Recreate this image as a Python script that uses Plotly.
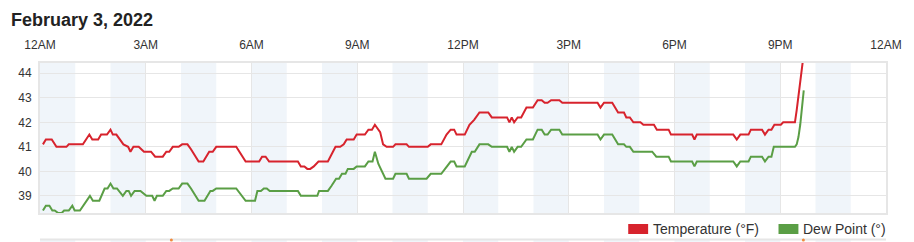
import plotly.graph_objects as go

DATE = "2022-02-03"
TITLE = "February 3, 2022"

temp_times = ["00:05","00:10","00:20","00:28","00:45","00:49","01:13","01:24","01:29","01:39",
              "01:44","01:54","02:00","02:04","02:10","02:22","02:30","02:34","02:39","02:48",
              "02:57","03:09","03:16","03:29","03:35","03:40","03:46","03:56","04:02","04:11",
              "04:17","04:30","04:38","04:48","04:54","05:00","05:34","05:50","06:13","06:18",
              "06:24","06:30","07:19","07:24","07:30","07:35","07:40","07:46","07:54","08:10",
              "08:23","08:31","08:37","08:42","08:54","08:59","09:13","09:19","09:25","09:30",
              "09:39","09:44","09:50","10:01","10:05","10:24","10:28","11:00","11:05","11:23",
              "11:32","11:39","11:45","11:49","12:03","12:11","12:19","12:28","12:43","12:49",
              "13:15","13:19","13:23","13:27","13:33","13:39","13:48","13:59","14:07","14:14",
              "14:19","14:24","14:30","14:44","14:49","15:49","15:54","16:00","16:14","16:24",
              "16:34","16:38","16:44","16:50","17:02","17:07","17:25","17:30","17:50","17:54",
              "18:30","18:34","18:38","19:40","19:46","19:52","20:06","20:10","20:29","20:34",
              "20:40","20:45","20:50","21:01","21:05","21:25","21:28","21:31","21:34","21:37",
              "21:40"]
temp_values = [41.1,41.3,41.3,41.0,41.0,41.1,41.1,41.5,41.3,41.3,
               41.5,41.5,41.7,41.5,41.5,41.1,41.0,40.8,41.0,41.0,
               40.8,40.8,40.6,40.6,40.8,40.8,41.0,41.0,41.1,41.1,
               40.9,40.4,40.4,40.8,40.8,41.0,41.0,40.4,40.4,40.6,
               40.6,40.4,40.4,40.2,40.2,40.1,40.1,40.2,40.4,40.4,
               41.0,41.0,41.1,41.3,41.3,41.5,41.5,41.7,41.7,41.9,
               41.6,41.1,41.0,41.0,41.1,41.1,41.0,41.0,41.1,41.1,
               41.5,41.7,41.7,41.5,41.5,41.9,42.1,42.4,42.4,42.2,
               42.2,42.0,42.2,42.0,42.2,42.2,42.6,42.6,42.9,42.9,
               42.8,42.8,42.9,42.9,42.8,42.8,42.6,42.8,42.8,42.4,
               42.4,42.2,42.2,42.0,42.0,41.9,41.9,41.7,41.7,41.5,
               41.5,41.3,41.5,41.5,41.3,41.5,41.5,41.7,41.7,41.5,
               41.7,41.7,41.9,41.9,42.0,42.0,42.5,43.0,43.6,44.1,
               44.8]

dew_times = ["00:05","00:10","00:16","00:21","00:25","00:31","00:37","00:41","00:49","00:55",
             "00:59","01:08","01:25","01:30","01:41","01:50","01:55","02:00","02:05","02:11",
             "02:21","02:27","02:31","02:35","02:41","02:51","03:01","03:11","03:15","03:19",
             "03:29","03:35","03:40","03:46","03:56","04:02","04:11","04:17","04:30","04:40",
             "04:50","04:54","05:00","05:34","05:50","06:06","06:10","06:16","06:21","06:26",
             "06:31","07:19","07:24","07:52","07:55","08:10","08:16","08:24","08:29","08:34",
             "08:40","08:44","08:54","08:59","09:13","09:19","09:26","09:30","09:36","09:42",
             "09:48","10:01","10:05","10:24","10:28","10:58","11:05","11:23","11:32","11:39",
             "11:45","11:49","12:03","12:11","12:15","12:20","12:28","12:43","12:49","13:15",
             "13:19","13:23","13:27","13:33","13:39","13:48","13:59","14:07","14:14","14:19",
             "14:24","14:30","14:44","14:49","15:49","15:54","16:00","16:14","16:24","16:34",
             "16:38","16:44","16:50","17:22","17:29","17:50","17:54","18:30","18:34","18:38",
             "19:40","19:46","19:52","20:06","20:10","20:29","20:34","20:40","20:45","20:49",
             "21:25","21:28","21:31","21:34","21:37","21:40"]
dew_values = [38.4,38.6,38.6,38.4,38.4,38.3,38.3,38.4,38.4,38.6,
              38.4,38.4,39.0,38.8,38.8,39.3,39.3,39.5,39.3,39.3,
              39.0,39.2,39.2,39.0,39.2,39.2,39.0,39.0,38.8,39.0,
              39.0,39.2,39.2,39.3,39.3,39.5,39.5,39.3,38.8,38.8,
              39.2,39.2,39.3,39.3,38.8,38.8,39.2,39.2,39.3,39.3,
              39.2,39.2,39.0,39.0,39.2,39.2,39.4,39.7,39.7,39.9,
              39.9,40.1,40.1,40.2,40.2,40.4,40.4,40.8,40.3,40.0,
              39.7,39.7,39.9,39.9,39.7,39.7,39.9,39.9,40.2,40.4,
              40.4,40.2,40.2,40.6,40.8,40.8,41.1,41.1,41.0,41.0,
              40.8,41.0,40.8,41.0,41.0,41.3,41.3,41.7,41.7,41.5,
              41.5,41.7,41.7,41.5,41.5,41.3,41.5,41.5,41.1,41.1,
              41.0,41.0,40.8,40.8,40.6,40.6,40.4,40.4,40.2,40.4,
              40.4,40.2,40.4,40.4,40.6,40.6,40.4,40.6,40.6,41.0,
              41.0,41.1,41.4,41.9,42.6,43.3]

y_ticks = [39, 40, 41, 42, 43, 44]
series_names = ["Temperature (°F)", "Dew Point (°)"]
series_colors = ["#d7232d", "#5a9e45"]

FONT = "Liberation Sans, Arial, sans-serif"
TXT = "#333333"
GRID = "#e6e6e6"
BAND = "#f0f5fa"

# plot area in pixels
W, H = 914, 242
L, R, T, B = 40, 890, 63, 213
PW, PH = R - L, B - T

def px(x):
    return (x - L) / PW

def py(y):
    return (B - y) / PH

fig = go.Figure()
fig.add_trace(go.Scatter(x=[f"{DATE} {t}" for t in temp_times], y=temp_values,
                         mode="lines", line=dict(color=series_colors[0], width=2),
                         name=series_names[0], showlegend=False))
fig.add_trace(go.Scatter(x=[f"{DATE} {t}" for t in dew_times], y=dew_values,
                         mode="lines", line=dict(color=series_colors[1], width=2),
                         name=series_names[1], showlegend=False))

shapes = []
for h in range(0, 24, 2):
    shapes.append(dict(type="rect", xref="x", yref="paper",
                       x0=f"{DATE} {h:02d}:00", x1=f"{DATE} {h+1:02d}:00",
                       y0=0, y1=1, fillcolor=BAND, line=dict(width=0), layer="below"))
    # bands of the next (cut-off) chart below
    shapes.append(dict(type="rect", xref="x", yref="paper",
                       x0=f"{DATE} {h:02d}:00", x1=f"{DATE} {h+1:02d}:00",
                       y0=py(243), y1=py(240), fillcolor=BAND, line=dict(width=0), layer="below"))
shapes.append(dict(type="line", xref="paper", yref="paper", x0=0, x1=1,
                   y0=py(239.5), y1=py(239.5), line=dict(color=GRID, width=2)))
for xx in [172, 807]:
    shapes.append(dict(type="circle", xref="paper", yref="paper",
                       x0=px(xx - 1.5), x1=px(xx + 1.5), y0=py(241.5), y1=py(238.5),
                       fillcolor="#f08a3c", line=dict(width=0)))

# legend drawn manually
annotations = [dict(text=f"<b>{TITLE}</b>", xref="paper", yref="paper",
                    x=px(9), y=py(20.5), xanchor="left", yanchor="middle",
                    showarrow=False, font=dict(family=FONT, size=18, color="#222222"))]
leg = [(631, 656), (782, 807)]
for (sx, tx), name, col in zip(leg, series_names, series_colors):
    shapes.append(dict(type="rect", xref="paper", yref="paper",
                       x0=px(sx), x1=px(sx + 20), y0=py(234), y1=py(224),
                       fillcolor=col, line=dict(width=0)))
    annotations.append(dict(text=name, xref="paper", yref="paper",
                            x=px(tx - 2), y=py(229), xanchor="left", yanchor="middle",
                            showarrow=False, font=dict(family=FONT, size=14, color=TXT)))

fig.update_layout(
    width=W, height=H,
    margin=dict(l=L, r=W - R, t=T, b=H - B, pad=0),
    paper_bgcolor="white", plot_bgcolor="white",
    shapes=shapes, annotations=annotations,
    font=dict(family=FONT, size=12, color=TXT),
    xaxis=dict(type="date", side="top",
               range=[f"{DATE} 00:00", "2022-02-04 00:00"],
               dtick=3 * 3600 * 1000, tick0=f"{DATE} 00:00",
               tickformat="%-I%p", showgrid=True, gridcolor=GRID, gridwidth=1,
               showline=True, mirror=True, linecolor=GRID, linewidth=2,
               ticks="outside", ticklen=7, tickcolor="rgba(0,0,0,0)",
               tickfont=dict(family=FONT, size=12, color=TXT), zeroline=False),
    yaxis=dict(range=[38.3, 44.42], tickvals=y_ticks, showgrid=True, gridcolor=GRID,
               showline=True, mirror=True, linecolor=GRID, linewidth=2,
               ticks="outside", ticklen=4, tickcolor="rgba(0,0,0,0)",
               tickfont=dict(family=FONT, size=12, color=TXT), zeroline=False),
    showlegend=False,
)

fig.write_html("out.html")
